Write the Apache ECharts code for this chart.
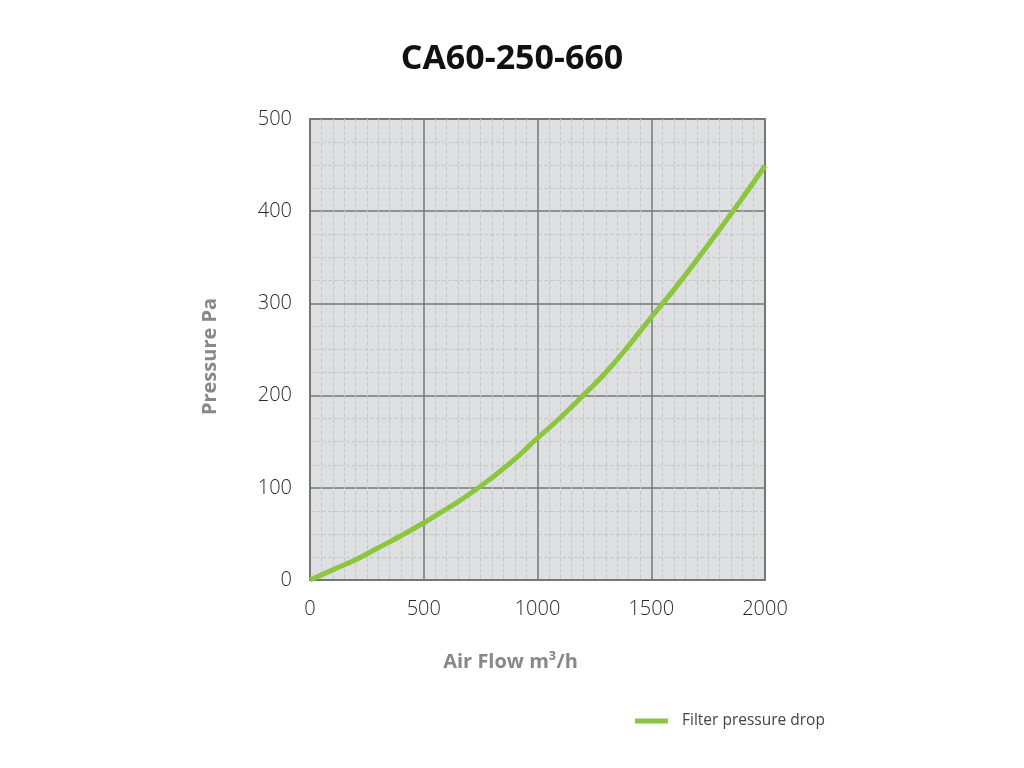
<!DOCTYPE html>
<html>

<head>
    <meta charset="UTF-8">
    <script src="https://cdn.jsdelivr.net/npm/echarts@6/dist/echarts.min.js"></script>
    <title>CA60-250-660</title>
    <style>
        html,
        body {
            margin: 0;
            padding: 0;
            background: #fff;
        }

        #chart {
            width: 1024px;
            height: 768px;
        }
    </style>
</head>

<body>
    <div id="chart"></div>
</body>

</html>
<script>
    // air flow m3/h and pressure drop Pa
    const flow = [0, 100, 200, 300, 400, 500, 600, 700, 800, 900, 1000, 1100, 1200, 1300, 1400, 1500, 1600, 1700, 1800, 1900, 2000];
    const pressure = [0, 11, 22, 35, 48, 62, 77, 93, 111, 131, 154, 176, 200, 225, 254, 285, 315, 347, 380, 414, 449];
    const seriesName = 'Filter pressure drop';

    const points = flow.map((f, i) => [f, pressure[i]]);

    var chart = echarts.init(document.getElementById('chart'));

    var option = {
        animation: false,
        textStyle: { fontFamily: 'Open Sans' },
        title: {
            text: 'CA60-250-660',
            left: 'center',
            top: 37,
            textStyle: { fontSize: 34, fontWeight: 'bold', color: '#111', fontFamily: 'Open Sans' }
        },
        legend: {
            data: [seriesName],
            left: 635,
            top: 713,
            padding: 0,
            itemWidth: 33,
            itemHeight: 5,
            icon: 'rect',
            textStyle: { fontSize: 15.5, color: '#444', fontFamily: 'Open Sans', padding: [0, 0, 0, 9] }
        },
        grid: {
            left: 310,
            right: 259,
            top: 119,
            bottom: 188,
            show: true,
            backgroundColor: '#dedfe0',
            borderColor: '#777',
            borderWidth: 2
        },
        xAxis: {
            type: 'value',
            min: 0,
            max: 2000,
            interval: 500,
            name: 'Air Flow m³/h',
            nameLocation: 'middle',
            nameGap: 72,
            nameTextStyle: { fontSize: 20, fontWeight: 'bold', color: '#888', padding: [0, 54, 0, 0] },
            axisLine: { show: false },
            axisTick: { show: false },
            axisLabel: { margin: 19, fontSize: 20, fontWeight: 300, color: '#2a2a2a', formatter: (v) => String(v) },
            splitLine: { lineStyle: { color: '#777', width: 1.5 } },
            minorTick: { show: false, splitNumber: 10 },
            minorSplitLine: { show: true, lineStyle: { color: '#c6c7c8', width: 1, type: 'dashed' } }
        },
        yAxis: {
            type: 'value',
            min: 0,
            max: 500,
            interval: 100,
            name: 'Pressure Pa',
            nameLocation: 'middle',
            nameGap: 90,
            nameTextStyle: { fontSize: 20, fontWeight: 'bold', color: '#888', padding: [0, 14, 0, 0] },
            axisLine: { show: false },
            axisTick: { show: false },
            axisLabel: { margin: 18, fontSize: 20, fontWeight: 300, color: '#2a2a2a' },
            splitLine: { lineStyle: { color: '#777', width: 1.5 } },
            minorTick: { show: false, splitNumber: 4 },
            minorSplitLine: { show: true, lineStyle: { color: '#c6c7c8', width: 1, type: 'dashed' } }
        },
        series: [{
            name: seriesName,
            type: 'line',
            smooth: 0.5,
            showSymbol: false,
            data: points,
            color: '#8cc63f',
            lineStyle: { width: 5, color: '#8cc63f' }
        }]
    };

    chart.setOption(option);
</script>
